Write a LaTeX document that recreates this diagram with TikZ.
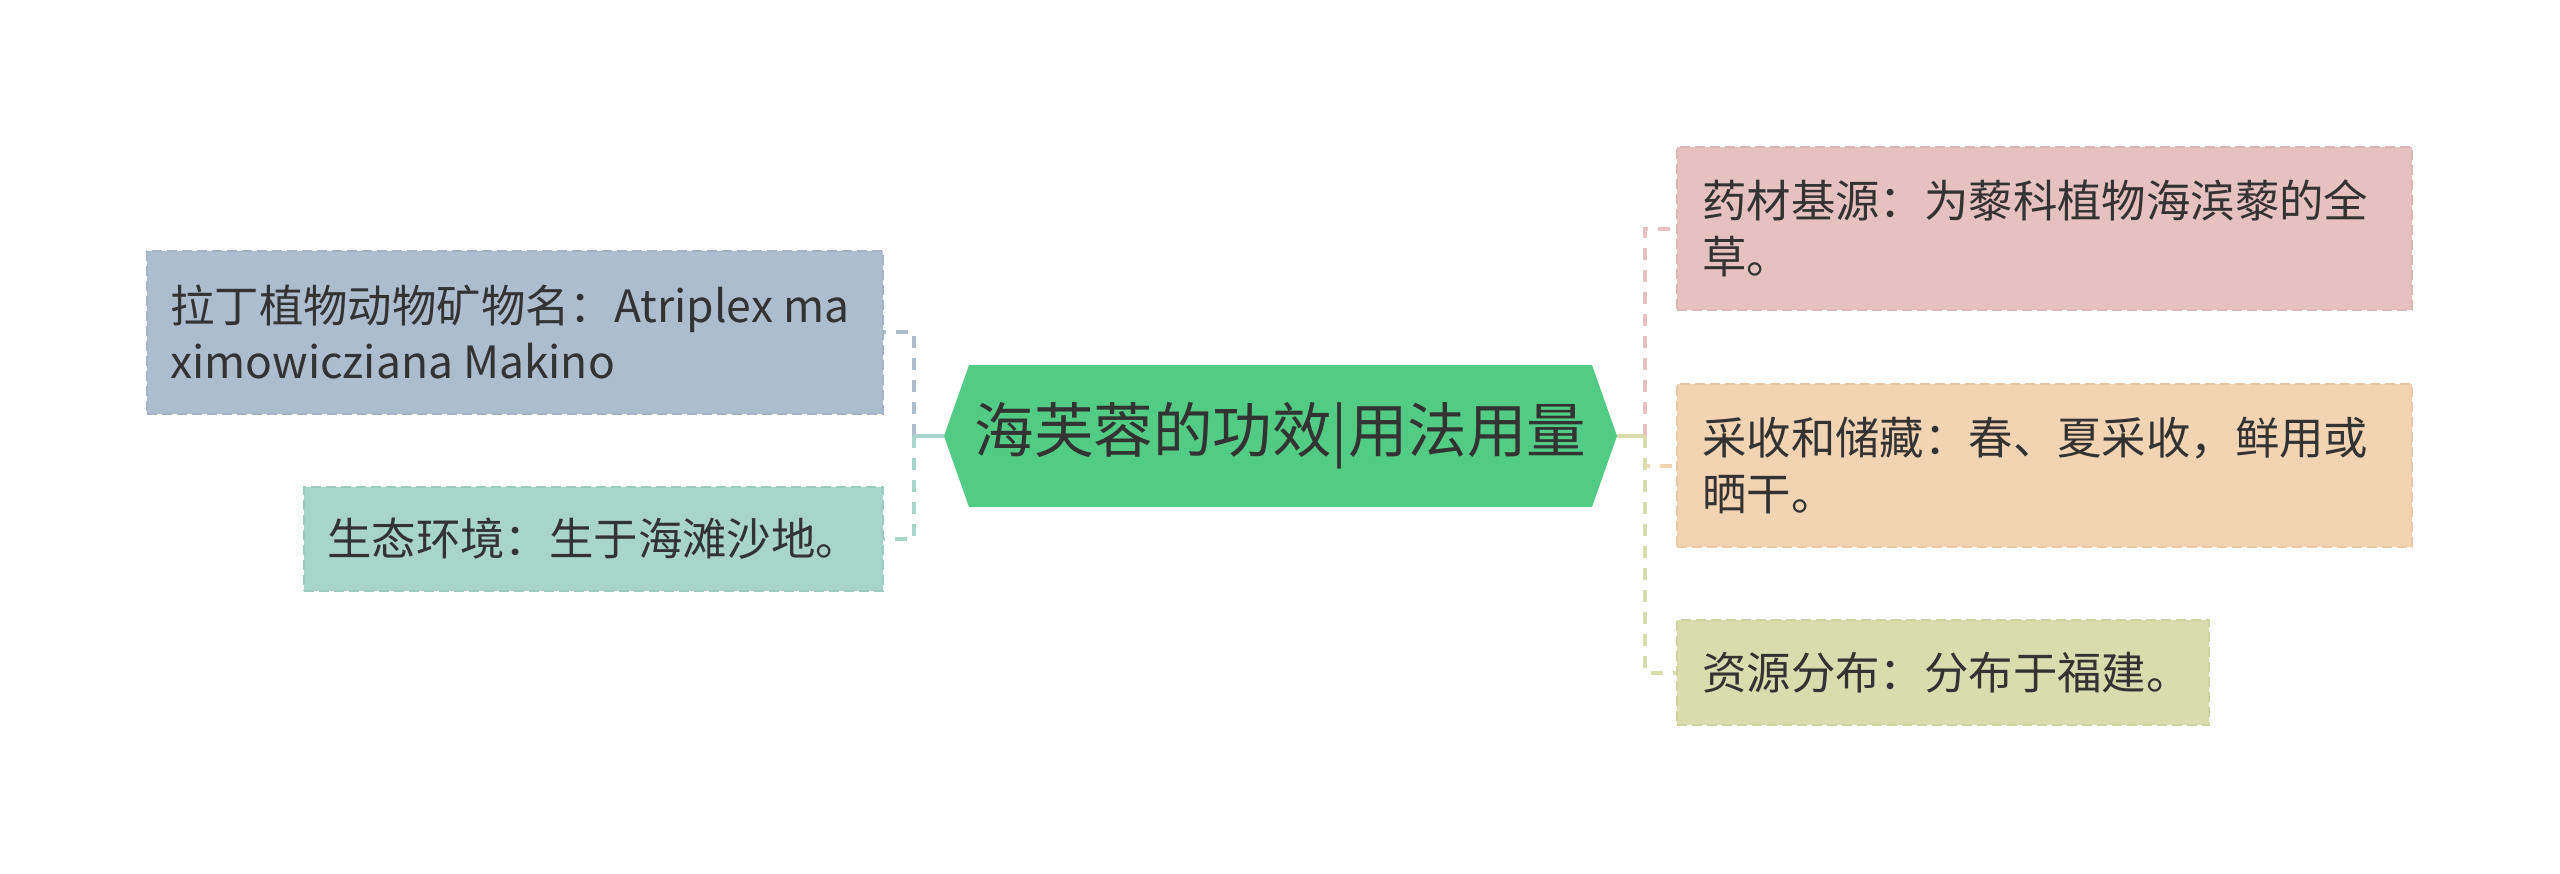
\documentclass[tikz,border=0pt]{standalone}
\usepackage{fontspec}
\setmainfont{Noto Sans CJK SC}
\definecolor{txt}{HTML}{333333}
\definecolor{cA}{HTML}{AEBDCE}
\definecolor{cAd}{HTML}{A3B3C6}
\definecolor{cB}{HTML}{A8D5C9}
\definecolor{cBd}{HTML}{9CCCBF}
\definecolor{cH}{HTML}{52CC85}
\definecolor{cP}{HTML}{E6C1C0}
\definecolor{cPd}{HTML}{DDB5B4}
\definecolor{cO}{HTML}{F2D3B2}
\definecolor{cOd}{HTML}{E9C8A5}
\definecolor{cG}{HTML}{D9DDAD}
\definecolor{cGd}{HTML}{CFD3A0}
\tikzset{
  boxst/.style={rectangle, line width=2pt, dash pattern=on 10pt off 5pt, inner sep=0pt},
  lbl/.style={anchor=west, align=left, inner sep=0pt, text=txt, font=\fontsize{44.4}{56}\selectfont},
  trunk/.style={line width=4pt},
  conn/.style={line width=4pt, dash pattern=on 12pt off 10pt},
}
\begin{document}
\begin{tikzpicture}[x=1pt,y=-1pt]
\useasboundingbox (0,0) rectangle (2560,873);
% boxes
\node[boxst, fill=cA, draw=cAd, minimum width=736pt, minimum height=163pt] (b1) at (515,332) {};
\node[lbl] (b1t) at ([xshift=24pt]b1.west) {拉丁植物动物矿物名：Atriplex ma\\ximowicziana Makino};
\node[boxst, fill=cB, draw=cBd, minimum width=579pt, minimum height=104pt] (b2) at (593.5,539) {};
\node[lbl] (b2t) at ([xshift=24pt]b2.west) {生态环境：生于海滩沙地。};
\node[boxst, fill=cP, draw=cPd, minimum width=735pt, minimum height=163pt] (p1) at (2044.5,228.5) {};
\node[lbl] (p1t) at ([xshift=26pt]p1.west) {药材基源：为藜科植物海滨藜的全\\草。};
\node[boxst, fill=cO, draw=cOd, minimum width=735pt, minimum height=163pt] (p2) at (2044.5,465.5) {};
\node[lbl] (p2t) at ([xshift=26pt]p2.west) {采收和储藏：春、夏采收，鲜用或\\晒干。};
\node[boxst, fill=cG, draw=cGd, minimum width=532pt, minimum height=105pt] (p3) at (1943,672.5) {};
\node[lbl] (p3t) at ([xshift=26pt]p3.west) {资源分布：分布于福建。};
% central hexagon
\fill[cH] (944,436) -- (969,365) -- (1592,365) -- (1617,436) -- (1592,507) -- (969,507) -- cycle;
\node[minimum width=673pt, minimum height=142pt, inner sep=0pt, text=txt, font=\fontsize{59.5}{70}\selectfont] (hex) at (1280.5,436) {海芙蓉的功效|用法用量};
% junctions
\coordinate (lj) at (914,436);
\coordinate (rj) at (1645,436);
% left connectors
\draw[conn, cA] (lj) |- (b1.east);
\draw[trunk, cA] (hex.west) -- (lj);
\draw[conn, cB] (lj) |- (b2.east);
\draw[trunk, cB] (hex.west) -- (lj);
% right connectors
\draw[conn, cP] (rj) |- (p1.west);
\draw[trunk, cP] (hex.east) -- (rj);
\draw[conn, cO] (rj) |- (p2.west);
\draw[trunk, cO] (hex.east) -- (rj);
\draw[conn, cG] (rj) |- (p3.west);
\draw[trunk, cG] (hex.east) -- (rj);
\end{tikzpicture}
\end{document}
